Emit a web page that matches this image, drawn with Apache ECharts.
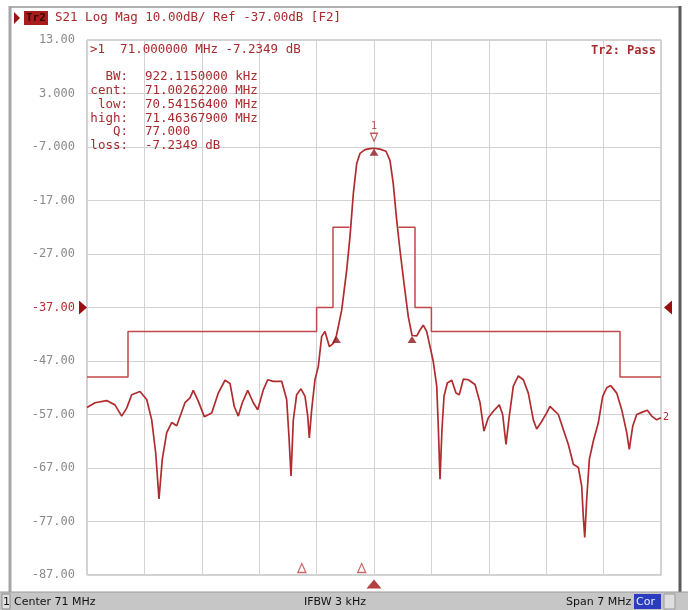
<!DOCTYPE html>
<html>
<head>
<meta charset="utf-8">
<title>S21 Log Mag</title>
<script src="https://cdn.jsdelivr.net/npm/echarts@6/dist/echarts.min.js"></script>
<style>
  html, body { margin: 0; padding: 0; background: #ffffff; }
  #chart { width: 688px; height: 610px; }
</style>
</head>
<body>
<div id="chart"></div>
<script>
// Sweep and scale settings
const START_MHZ = 67.5;
const STOP_MHZ = 74.5;
const Y_TOP_DB = 13;
const Y_BOTTOM_DB = -87;
const REF_LEVEL_DB = -37;
const DIVISIONS = 10;

// Amplitude tick labels, top to bottom
const yTickLabels = ['13.00', '3.000', '-7.000', '-17.00', '-27.00', '-37.00',
                     '-47.00', '-57.00', '-67.00', '-77.00', '-87.00'];

// S21 trace
const freqMHz = [
  67.500, 67.598, 67.740, 67.841, 67.923, 67.984, 68.045, 68.146, 68.228, 68.289,
  68.338, 68.378, 68.418, 68.472, 68.533, 68.594, 68.695, 68.756, 68.796, 68.857,
  68.930, 69.021, 69.101, 69.183, 69.244, 69.296, 69.345, 69.394, 69.460, 69.528,
  69.582, 69.650, 69.704, 69.772, 69.874, 69.935, 69.963, 69.988, 70.016, 70.057,
  70.110, 70.159, 70.192, 70.211, 70.240, 70.280, 70.321, 70.362, 70.402, 70.455,
  70.504, 70.542, 70.606, 70.667, 70.707, 70.748, 70.789, 70.829, 70.890, 70.951,
  71.000, 71.073, 71.146, 71.195, 71.235, 71.277, 71.317, 71.366, 71.418, 71.464,
  71.521, 71.561, 71.601, 71.643, 71.683, 71.723, 71.765, 71.784, 71.805, 71.829,
  71.854, 71.894, 71.948, 72.000, 72.040, 72.089, 72.150, 72.232, 72.293, 72.341,
  72.394, 72.455, 72.528, 72.569, 72.610, 72.650, 72.699, 72.760, 72.821, 72.882,
  72.943, 72.984, 73.045, 73.106, 73.146, 73.187, 73.248, 73.309, 73.370, 73.431,
  73.492, 73.533, 73.552, 73.570, 73.594, 73.626, 73.674, 73.735, 73.789, 73.838,
  73.887, 73.960, 74.021, 74.082, 74.113, 74.155, 74.204, 74.265, 74.333, 74.387,
  74.448, 74.500
];
const s21dB = [
  -55.7, -54.8, -54.4, -55.2, -57.3, -55.8, -53.3, -52.7, -54.2, -58.0,
  -64.2, -72.8, -65.4, -60.4, -58.5, -59.1, -54.8, -53.9, -52.5, -54.5,
  -57.4, -56.7, -53.0, -50.6, -51.2, -55.5, -57.3, -54.8, -52.5, -54.8,
  -56.1, -52.4, -50.5, -50.8, -50.8, -54.2, -61.1, -68.5, -58.0, -53.3,
  -52.2, -53.6, -57.3, -61.4, -56.1, -50.5, -48.0, -42.4, -41.5, -44.3,
  -43.7, -42.23, -37.5, -30.0, -23.8, -15.7, -10.1, -8.2, -7.5, -7.3,
  -7.2349, -7.4, -7.8, -9.5, -13.9, -20.7, -26.3, -32.5, -38.7, -42.23,
  -42.3, -41.2, -40.3, -41.5, -44.3, -47.1, -51.7, -59.2, -69.1, -59.8,
  -53.6, -51.1, -50.6, -53.0, -53.3, -50.4, -50.5, -51.4, -54.8, -60.1,
  -57.6, -56.4, -55.2, -57.0, -62.6, -57.3, -51.7, -49.8, -50.5, -53.0,
  -58.0, -59.7, -58.3, -56.7, -55.5, -56.1, -57.0, -59.8, -62.6, -66.3,
  -66.9, -70.4, -76.0, -80.0, -72.8, -65.4, -62.0, -58.6, -53.6, -52.0,
  -51.6, -53.0, -56.1, -60.4, -63.5, -59.2, -57.0, -56.6, -56.2, -57.3,
  -58.0, -57.6
];

// Limit line segments (lower and upper stopband masks)
const limitLeftMHz  = [67.5, 68.0, 68.0, 70.3, 70.3, 70.5, 70.5, 70.7];
const limitLeftdB   = [-50, -50, -41.5, -41.5, -37, -37, -22, -22];
const limitRightMHz = [71.3, 71.5, 71.5, 71.7, 71.7, 74.0, 74.0, 74.5];
const limitRightdB  = [-22, -22, -37, -37, -41.5, -41.5, -50, -50];

// Markers: active marker 1 plus bandwidth search low/high
const markerMHz = [71.0, 70.541564, 71.463679];
const markerdB  = [-7.2349, -42.2349, -42.2349];
const stimulusMarkMHz = [70.12, 70.85];

// Readout texts
const titleText = 'S21 Log Mag 10.00dB/ Ref -37.00dB [F2]';
const markerLine = '>1  71.000000 MHz -7.2349 dB';
const readoutLabels = ['BW:', 'cent:', 'low:', 'high:', 'Q:', 'loss:'];
const readoutValues = ['922.1150000 kHz', '71.00262200 MHz', '70.54156400 MHz',
                       '71.46367900 MHz', '77.000', '-7.2349 dB'];
const passText = 'Tr2: Pass';
const statusTexts = ['Center 71 MHz', 'IFBW 3 kHz', 'Span 7 MHz'];

const RED = '#a92a2c';
const TRACE = '#b02c2e';
const LIMIT = '#c0484a';
const MONO = '"DejaVu Sans Mono", "Liberation Mono", monospace';

const zip = (xs, ys) => xs.map((x, i) => [x, ys[i]]);

const chart = echarts.init(document.getElementById('chart'), null, { renderer: 'canvas' });

const G = { left: 87, top: 40, width: 574, height: 535 };

chart.setOption({
  animation: false,
  backgroundColor: '#ffffff',
  grid: {
    left: G.left, top: G.top, width: G.width, height: G.height,
    show: true, borderColor: '#a4a4a4', borderWidth: 1, backgroundColor: 'transparent'
  },
  xAxis: [
    { type: 'value', min: START_MHZ, max: STOP_MHZ, show: false },
    {
      type: 'value', min: 0, max: DIVISIONS, interval: 1, position: 'bottom',
      axisLine: { show: false }, axisTick: { show: false }, axisLabel: { show: false },
      splitLine: { show: true, lineStyle: { color: '#d3d3d3', width: 1 } }
    }
  ],
  yAxis: [
    { type: 'value', min: Y_BOTTOM_DB, max: Y_TOP_DB, show: false },
    {
      type: 'value', min: 0, max: DIVISIONS, interval: 1, position: 'left',
      axisLine: { show: false }, axisTick: { show: false },
      splitLine: { show: true, lineStyle: { color: '#d3d3d3', width: 1 } },
      axisLabel: {
        margin: 12,
        fontFamily: MONO, fontSize: 12, color: '#8a8a8a',
        formatter: (v) => {
          const idx = DIVISIONS - Math.round(v);
          const dbValue = Y_TOP_DB - idx * (Y_TOP_DB - Y_BOTTOM_DB) / DIVISIONS;
          const t = yTickLabels[idx];
          return dbValue === REF_LEVEL_DB ? '{ref|' + t + '}' : t;
        },
        rich: { ref: { color: '#b03032', fontFamily: MONO, fontSize: 12 } }
      }
    }
  ],
  series: [
    {
      type: 'line', name: 'limitLeft', data: zip(limitLeftMHz, limitLeftdB),
      showSymbol: false, silent: true, lineStyle: { color: LIMIT, width: 1.5 }, z: 2
    },
    {
      type: 'line', name: 'limitRight', data: zip(limitRightMHz, limitRightdB),
      showSymbol: false, silent: true, lineStyle: { color: LIMIT, width: 1.5 }, z: 2
    },
    {
      type: 'line', name: 'S21', data: zip(freqMHz, s21dB),
      showSymbol: false, silent: true, lineStyle: { color: TRACE, width: 1.7 }, z: 3,
      endLabel: {
        show: true, formatter: '2', color: RED, fontFamily: MONO, fontSize: 10,
        distance: 2
      }
    },
    {
      // filled marker flags sitting under the trace points
      type: 'scatter', name: 'markers', data: zip(markerMHz, markerdB),
      symbol: 'triangle', symbolSize: [9, 7], symbolOffset: [0, 4],
      itemStyle: { color: '#8e1a1c' }, silent: true, z: 4, clip: false
    },
    {
      // active marker pin with its number
      type: 'scatter', name: 'marker1', data: [[markerMHz[0], markerdB[0]]],
      symbol: 'triangle', symbolRotate: 180, symbolSize: [7, 8], symbolOffset: [0, -11],
      itemStyle: { color: '#ffffff', borderColor: '#b03032', borderWidth: 1.2 },
      label: { show: true, formatter: '1', position: 'top', distance: 1,
               color: RED, fontFamily: MONO, fontSize: 10 },
      silent: true, z: 5, clip: false
    },
    {
      // stimulus indicators along the bottom edge
      type: 'scatter', name: 'stimulus',
      data: stimulusMarkMHz.map(f => [f, Y_BOTTOM_DB]),
      symbol: 'triangle', symbolSize: [8, 9], symbolOffset: [0, -7],
      itemStyle: { color: '#ffffff', borderColor: '#c04446', borderWidth: 1.3 },
      silent: true, z: 5, clip: false
    },
    {
      // active marker position below the graticule
      type: 'scatter', name: 'activeStim', data: [[markerMHz[0], Y_BOTTOM_DB]],
      symbol: 'triangle', symbolSize: [15, 9], symbolOffset: [0, 9],
      itemStyle: { color: '#a01010' }, silent: true, z: 5, clip: false
    }
  ]
});

// Decorations and readouts
const refY = chart.convertToPixel({ yAxisIndex: 0 }, REF_LEVEL_DB);

const txt = (x, y, text, opts = {}) => ({
  type: 'text', x, y, silent: true, z: 20,
  style: Object.assign({
    text, fill: RED, font: '12.5px ' + MONO,
    align: 'left', verticalAlign: 'middle',
    textAlign: 'left', textVerticalAlign: 'middle'
  }, opts)
});

const SANS = '11px "DejaVu Sans", sans-serif';

const graphics = [
  // outer panel frame
  { type: 'line', shape: { x1: 10, y1: 7, x2: 679, y2: 7 }, style: { stroke: '#b0b0b0', lineWidth: 2 }, silent: true },
  { type: 'line', shape: { x1: 10, y1: 6, x2: 10, y2: 592 }, style: { stroke: '#a6a6a6', lineWidth: 3 }, silent: true },
  { type: 'line', shape: { x1: 680, y1: 6, x2: 680, y2: 610 }, style: { stroke: '#5a5a5a', lineWidth: 3 }, silent: true },

  // trace header
  { type: 'polygon', shape: { points: [[14, 12], [20, 18], [14, 24]] }, style: { fill: '#9a1414' }, silent: true },
  { type: 'rect', shape: { x: 24, y: 11, width: 24, height: 14 }, style: { fill: '#a81c1c' }, silent: true },
  txt(26, 18, 'Tr2', { fill: '#3a0606', font: 'bold 11px ' + MONO }),
  txt(55, 18, titleText),

  // marker readout
  txt(90, 50, markerLine),
  txt(656, 51, passText, { align: 'right', textAlign: 'right', font: 'bold 12px ' + MONO }),

  // reference level pointers
  { type: 'polygon', shape: { points: [[79, refY - 7], [87, refY], [79, refY + 7]] }, style: { fill: '#9a1010' }, silent: true, z: 20 },
  { type: 'polygon', shape: { points: [[672, refY - 7], [664, refY], [672, refY + 7]] }, style: { fill: '#9a1010' }, silent: true, z: 20 },

  // status bar
  { type: 'rect', shape: { x: 0, y: 592, width: 688, height: 18 }, style: { fill: '#c6c6c6' }, silent: true },
  { type: 'line', shape: { x1: 0, y1: 592, x2: 688, y2: 592 }, style: { stroke: '#9a9a9a', lineWidth: 1 }, silent: true },
  { type: 'rect', shape: { x: 2, y: 594, width: 8, height: 15 }, style: { fill: '#e2e2e2', stroke: '#8a8a8a', lineWidth: 1 }, silent: true },
  txt(3, 602, '1', { fill: '#111', font: SANS }),
  txt(14, 602, statusTexts[0], { fill: '#111', font: SANS }),
  txt(304, 602, statusTexts[1], { fill: '#111', font: SANS }),
  txt(566, 602, statusTexts[2], { fill: '#111', font: SANS }),
  { type: 'rect', shape: { x: 634, y: 594, width: 27, height: 15 }, style: { fill: '#2a3cc0' }, silent: true },
  txt(636, 602, 'Cor', { fill: '#e8ecff', font: SANS }),
  { type: 'rect', shape: { x: 664, y: 594, width: 11, height: 15 }, style: { fill: '#dedede', stroke: '#9a9a9a', lineWidth: 1 }, silent: true }
];

const rowTop = 77, rowStep = 13.8;
readoutLabels.forEach((lab, i) => {
  const y = rowTop + i * rowStep;
  graphics.push(txt(128, y, lab, { align: 'right', textAlign: 'right' }));
  graphics.push(txt(145, y, readoutValues[i]));
});

chart.setOption({ graphic: graphics });
</script>
</body>
</html>
